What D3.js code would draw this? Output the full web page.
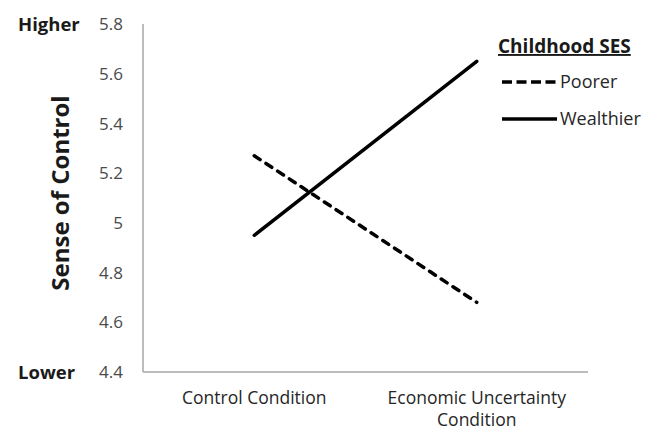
<!DOCTYPE html>
<html><head><meta charset="utf-8">
<script src="https://cdn.jsdelivr.net/npm/d3@7"></script>
<style>body{margin:0;background:#fff}svg{display:block}</style>
</head><body>
<svg id="c" width="657" height="431"></svg>
<script>
const categories = [["Control Condition"], ["Economic Uncertainty", "Condition"]];
const catKeys = ["Control Condition", "Economic Uncertainty Condition"];
const poorer = [5.27, 4.68];
const wealthier = [4.95, 5.65];
const yTicks = [4.4, 4.6, 4.8, 5.0, 5.2, 5.4, 5.6, 5.8];
const yTickLabels = ["4.4", "4.6", "4.8", "5", "5.2", "5.4", "5.6", "5.8"];
const seriesNames = ["Poorer", "Wealthier"];

const svg = d3.select("#c");
const font = "'Open Sans', sans-serif";
const x = d3.scaleBand().domain(catKeys).range([143, 588]).padding(0);
const y = d3.scaleLinear().domain([4.4, 5.8]).range([372, 24]);

// axes
svg.append("line").attr("x1", 143).attr("x2", 143).attr("y1", y(5.8)).attr("y2", y(4.4))
  .attr("stroke", "#a6a6a6").attr("stroke-width", 1.5);
svg.append("line").attr("x1", 143).attr("x2", 588).attr("y1", y(4.4)).attr("y2", y(4.4))
  .attr("stroke", "#a6a6a6").attr("stroke-width", 1.5);

svg.append("g").selectAll("text").data(yTicks).join("text")
  .attr("x", 123).attr("y", d => y(d)).attr("dy", "0.36em")
  .attr("text-anchor", "end").attr("font-family", font).attr("font-size", 17)
  .attr("fill", "#4a4a4a").text((d, i) => yTickLabels[i]);

// x labels
categories.forEach((lines, i) => {
  lines.forEach((l, j) => svg.append("text").attr("text-anchor", "middle").attr("font-family", font)
    .attr("font-size", 17.5).attr("fill", "#262626")
    .attr("x", x(catKeys[i]) + x.bandwidth() / 2)
    .attr("y", 404 + j * 22).text(l));
});

// Higher / Lower
svg.append("text").attr("x", 18).attr("y", y(5.8)).attr("dy", "0.36em").attr("font-family", font)
  .attr("font-weight", "bold").attr("font-size", 18.5).attr("fill", "#1a1a1a").text("Higher");
svg.append("text").attr("x", 18).attr("y", y(4.4)).attr("dy", "0.36em").attr("font-family", font)
  .attr("font-weight", "bold").attr("font-size", 18.5).attr("fill", "#1a1a1a").text("Lower");

// y title
svg.append("text").attr("transform", "translate(69,193) rotate(-90)").attr("text-anchor", "middle")
  .attr("font-family", font).attr("font-weight", "bold").attr("font-size", 24).attr("fill", "#1a1a1a")
  .text("Sense of Control");

// lines
const line = d3.line().x((d, i) => x(catKeys[i]) + x.bandwidth() / 2).y(d => y(d));
svg.append("path").attr("d", line(poorer)).attr("fill", "none").attr("stroke", "#000")
  .attr("stroke-width", 3.5).attr("stroke-dasharray", "7,7").attr("stroke-linecap", "round");
svg.append("path").attr("d", line(wealthier)).attr("fill", "none").attr("stroke", "#000")
  .attr("stroke-width", 3.5).attr("stroke-linecap", "round");

// legend
svg.append("text").attr("x", 498).attr("y", 53).attr("font-family", font).attr("font-weight", "bold")
  .attr("font-size", 19).attr("fill", "#1a1a1a").attr("text-decoration", "underline").text("Childhood SES");
const ly = [82, 119];
seriesNames.forEach((n, i) => {
  svg.append("line").attr("x1", 502).attr("x2", 557).attr("y1", ly[i]).attr("y2", ly[i])
    .attr("stroke", "#000").attr("stroke-width", 3.5)
    .attr("stroke-dasharray", i === 0 ? "10,4.5" : null);
  svg.append("text").attr("x", 560).attr("y", ly[i]).attr("dy", "0.36em").attr("font-family", font)
    .attr("font-size", 18).attr("fill", "#262626").text(n);
});
</script>
</body></html>
